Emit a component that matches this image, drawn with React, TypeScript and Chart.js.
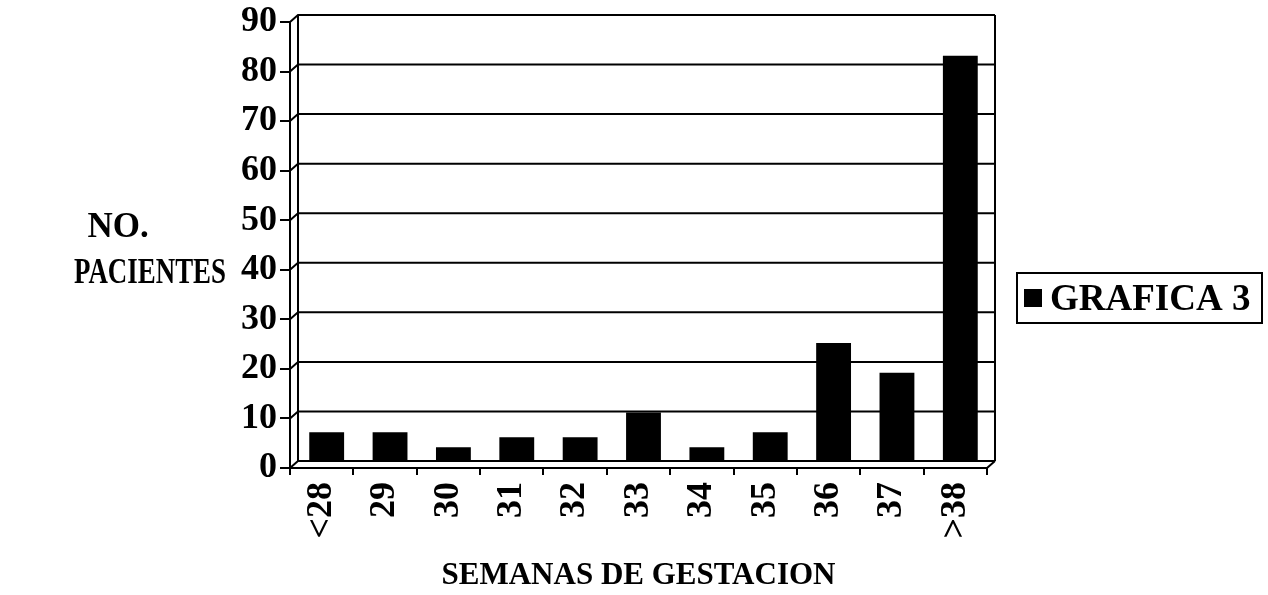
import React, { useEffect, useRef } from "react";
import { Chart, registerables } from "chart.js";

Chart.register(...registerables);

const categories = ["<28", "29", "30", "31", "32", "33", "34", "35", "36", "37", ">38"];
const pacientes = [6, 6, 3, 5, 5, 10, 3, 6, 24, 18, 82];
const yMin = 0;
const yMax = 90;
const yStep = 10;
const seriesName = "GRAFICA 3";
const xTitle = "SEMANAS DE GESTACION";
const yTitleLines = ["NO.", "PACIENTES"];

const FONT = "'Liberation Serif', 'Times New Roman', serif";
const DX = 8; // depth offset of the back wall
const DY = 7;

const depthPlugin = {
  id: "depth",
  beforeDatasetsDraw(chart: any) {
    const { ctx, chartArea, scales } = chart;
    const y = scales.y;
    ctx.save();
    ctx.strokeStyle = "#000";
    ctx.lineWidth = 2;
    ctx.beginPath();
    // back wall gridlines and connectors
    y.ticks.forEach((t: any) => {
      const py = y.getPixelForValue(t.value);
      ctx.moveTo(chartArea.left, py);
      ctx.lineTo(chartArea.left + DX, py - DY);
      ctx.lineTo(chartArea.right + DX, py - DY);
    });
    // back wall left & right verticals
    ctx.moveTo(chartArea.left + DX, chartArea.top - DY);
    ctx.lineTo(chartArea.left + DX, chartArea.bottom - DY);
    ctx.moveTo(chartArea.right + DX, chartArea.top - DY);
    ctx.lineTo(chartArea.right + DX, chartArea.bottom - DY);
    // floor right edge
    ctx.moveTo(chartArea.right, chartArea.bottom);
    ctx.lineTo(chartArea.right + DX, chartArea.bottom - DY);
    ctx.stroke();
    ctx.restore();
    // shift bars into depth
    ctx.save();
    ctx.translate(5, -6);
  },
  afterDatasetsDraw(chart: any) {
    chart.ctx.restore();
  },
  afterDraw(chart: any) {
    const { ctx } = chart;
    ctx.save();
    ctx.fillStyle = "#000";
    ctx.strokeStyle = "#000";
    ctx.textBaseline = "middle";
    ctx.textAlign = "center";
    ctx.font = `bold 35px ${FONT}`;
    ctx.fillText(yTitleLines[0], 118, 228, 68);
    ctx.fillText(yTitleLines[1], 150, 274, 152);

    // legend
    const lx = 1017, ly = 273, lw = 245, lh = 50;
    ctx.lineWidth = 2;
    ctx.strokeRect(lx, ly, lw, lh);
    ctx.fillRect(1024, 289, 18, 18);
    ctx.textAlign = "left";
    ctx.font = `bold 37px ${FONT}`;
    ctx.fillText(seriesName, 1050, 300, 206);
    ctx.restore();
  },
};

export default function App() {
  const canvasRef = useRef<HTMLCanvasElement | null>(null);

  useEffect(() => {
    document.body.style.margin = "0";
    const canvas = canvasRef.current;
    if (!canvas) return;
    const chart = new Chart(canvas, {
      type: "bar",
      data: {
        labels: categories,
        datasets: [
          {
            label: seriesName,
            data: pacientes,
            backgroundColor: "#000",
            borderWidth: 0,
            categoryPercentage: 1,
            barPercentage: 0.55,
          },
        ],
      },
      options: {
        animation: false,
        responsive: false,
        devicePixelRatio: 1,
        layout: { padding: { top: 22, right: 281, left: 0, bottom: 0 } },
        plugins: {
          legend: { display: false },
          tooltip: { enabled: false },
        },
        scales: {
          x: {
            grid: {
              display: true,
              drawOnChartArea: false,
              drawTicks: true,
              tickLength: 7,
              color: "#000",
              lineWidth: 2,
              offset: true,
            },
            border: { display: true, color: "#000", width: 2 },
            ticks: {
              color: "#000",
              font: { family: FONT, size: 36, weight: "bold" },
              minRotation: 90,
              maxRotation: 90,
              padding: 7,
              autoSkip: false,
            },
            title: {
              display: true,
              text: xTitle,
              color: "#000",
              font: { family: FONT, size: 31, weight: "bold" },
              padding: { top: 0, bottom: 0 },
            },
            afterFit(scale: any) {
              scale.height = 127;
              scale.paddingLeft = 0;
              scale.paddingRight = 0;
            },
          },
          y: {
            min: yMin,
            max: yMax,
            ticks: {
              stepSize: yStep,
              color: "#000",
              font: { family: FONT, size: 36, weight: "bold" },
              padding: 3,
            },
            grid: {
              color: "#000",
              lineWidth: 2,
              drawOnChartArea: false,
              drawTicks: true,
              tickLength: 10,
            },
            border: { display: true, color: "#000", width: 2 },
            afterFit(scale: any) {
              scale.width = 290;
              scale.paddingTop = 0;
              scale.paddingBottom = 0;
            },
          },
        },
      },
      plugins: [depthPlugin],
    } as any);
    return () => chart.destroy();
  }, []);

  return (
    <div style={{ width: 1268, height: 595, background: "#fff" }}>
      <canvas ref={canvasRef} width={1268} height={595} />
    </div>
  );
}
